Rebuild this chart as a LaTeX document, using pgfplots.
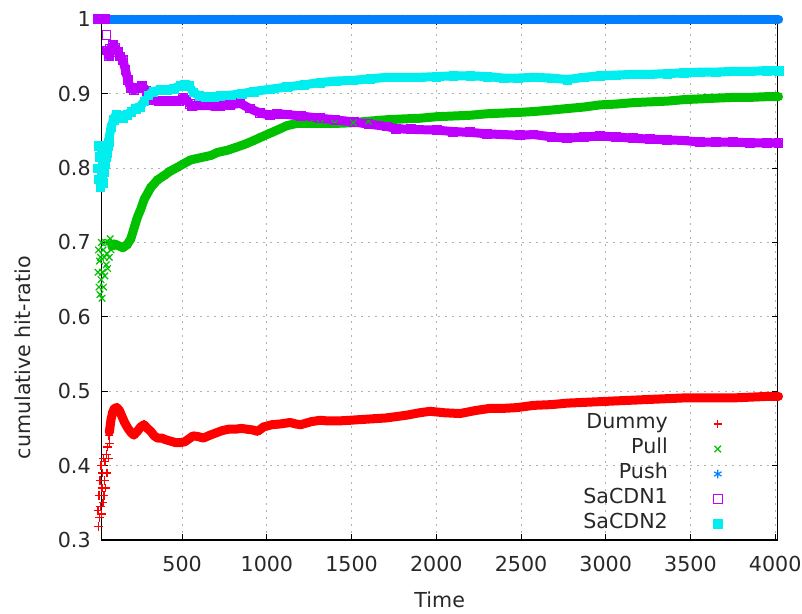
\documentclass[border=0pt]{standalone}
\usepackage{pgfplots}
\usepackage{pgfplotstable}
\pgfplotsset{compat=1.18}
\usepackage{fontspec}
\setmainfont{DejaVu Sans}

\definecolor{cDummy}{RGB}{255,0,0}
\definecolor{cPull}{RGB}{0,192,0}
\definecolor{cPush}{RGB}{0,128,255}
\definecolor{cSaA}{RGB}{192,0,255}
\definecolor{cSaB}{RGB}{0,238,238}
\definecolor{txt}{RGB}{40,40,40}

% ---------------- Dummy ----------------
\pgfplotstableread{
t v
3 0.34
6 0.318
9 0.36
12 0.33
15 0.38
18 0.345
21 0.40
24 0.335
27 0.37
30 0.39
33 0.35
36 0.41
39 0.36
42 0.38
45 0.405
48 0.37
52 0.415
56 0.39
60 0.425
64 0.41
68 0.44
72 0.43
76 0.455
}\dummyearly
\pgfplotstableread{
t v
70 0.445
80 0.462
90 0.472
100 0.477
115 0.478
130 0.474
145 0.466
160 0.458
180 0.450
200 0.444
215 0.441
235 0.446
255 0.452
275 0.455
295 0.450
315 0.446
335 0.440
355 0.437
380 0.437
400 0.435
430 0.433
460 0.431
490 0.431
515 0.432
540 0.436
565 0.440
595 0.439
625 0.437
665 0.441
700 0.444
735 0.447
775 0.449
815 0.449
850 0.450
880 0.449
915 0.448
945 0.446
980 0.452
1030 0.455
1080 0.456
1137 0.458
1170 0.456
1200 0.455
1260 0.459
1314 0.461
1360 0.460
1420 0.460
1492 0.461
1560 0.462
1630 0.463
1700 0.464
1768 0.466
1830 0.468
1900 0.471
1963 0.473
2050 0.471
2140 0.470
2230 0.474
2318 0.477
2400 0.477
2477 0.478
2574 0.481
2680 0.482
2773 0.484
2870 0.485
2968 0.486
3060 0.487
3163 0.488
3260 0.489
3363 0.490
3460 0.491
3558 0.491
3650 0.491
3753 0.491
3850 0.492
3950 0.493
4020 0.493
}\dummyband

% ---------------- Pull ----------------
\pgfplotstableread{
t v
3 0.66
6 0.69
9 0.64
12 0.675
15 0.63
18 0.68
21 0.65
24 0.70
27 0.625
30 0.66
33 0.69
36 0.64
40 0.68
44 0.655
48 0.70
52 0.67
56 0.685
60 0.665
65 0.70
70 0.68
75 0.705
80 0.69
}\pullearly
\pgfplotstableread{
t v
85 0.695
100 0.698
130 0.695
150 0.693
175 0.697
197 0.705
217 0.720
236 0.734
256 0.745
276 0.758
315 0.774
354 0.784
394 0.790
430 0.796
472 0.801
510 0.806
551 0.811
590 0.813
630 0.815
670 0.817
708 0.821
767 0.824
820 0.828
870 0.832
922 0.837
970 0.842
1020 0.847
1070 0.852
1118 0.857
1176 0.860
1250 0.860
1314 0.860
1400 0.860
1510 0.861
1600 0.863
1709 0.865
1800 0.866
1905 0.867
2000 0.869
2100 0.870
2200 0.871
2300 0.873
2400 0.874
2500 0.875
2574 0.876
2680 0.878
2773 0.880
2870 0.882
2968 0.885
3060 0.886
3163 0.888
3260 0.889
3363 0.890
3460 0.892
3558 0.893
3650 0.894
3753 0.895
3850 0.895
3950 0.896
4020 0.896
}\pullband

% ---------------- Push ----------------
\pgfplotstableread{
t v
2 1
200 1
400 1
600 1
800 1
1000 1
1200 1
1400 1
1600 1
1800 1
2000 1
2200 1
2400 1
2600 1
2800 1
3000 1
3200 1
3400 1
3600 1
3800 1
4020 1
}\pushband

% ---------------- SaCDN1 ----------------
\pgfplotstableread{
t v
2 1
7 1
12 1
17 1
22 1
27 1
32 1
37 1
42 1
47 1
53 0.979
}\saAearly
\pgfplotstableread{
t v
58 0.958
66 0.950
75 0.960
90 0.965
105 0.962
120 0.956
135 0.950
150 0.945
165 0.932
180 0.918
195 0.908
215 0.905
240 0.908
265 0.910
290 0.904
310 0.896
330 0.891
360 0.890
400 0.890
440 0.890
480 0.890
505 0.895
525 0.892
545 0.886
560 0.883
600 0.884
650 0.884
700 0.883
725 0.883
780 0.885
843 0.887
900 0.880
960 0.874
1020 0.871
1060 0.873
1118 0.872
1200 0.870
1314 0.867
1400 0.865
1512 0.862
1600 0.859
1709 0.856
1760 0.853
1850 0.852
2005 0.851
2100 0.849
2200 0.848
2300 0.846
2395 0.845
2495 0.844
2574 0.845
2680 0.842
2773 0.840
2870 0.842
2968 0.843
3060 0.842
3163 0.840
3260 0.839
3363 0.838
3460 0.837
3558 0.835
3650 0.835
3753 0.835
3850 0.834
3950 0.834
4020 0.834
}\saAband

% ---------------- SaCDN2 ----------------
\pgfplotstableread{
t v
3 0.80
6 0.83
9 0.785
12 0.815
15 0.775
18 0.80
21 0.825
24 0.79
27 0.81
30 0.78
34 0.82
38 0.795
42 0.83
46 0.805
50 0.815
55 0.82
60 0.83
}\saBearly
\pgfplotstableread{
t v
65 0.835
80 0.855
95 0.865
110 0.872
130 0.870
150 0.868
175 0.872
200 0.876
225 0.880
250 0.882
275 0.890
300 0.898
330 0.903
370 0.905
410 0.905
450 0.907
490 0.911
515 0.913
540 0.911
565 0.902
600 0.897
640 0.896
690 0.896
725 0.897
785 0.898
850 0.900
922 0.903
1020 0.906
1118 0.909
1220 0.912
1314 0.915
1410 0.917
1510 0.918
1610 0.920
1709 0.922
1800 0.922
1905 0.922
2000 0.923
2100 0.924
2200 0.924
2300 0.923
2397 0.921
2480 0.921
2574 0.922
2680 0.921
2773 0.919
2870 0.922
2968 0.924
3060 0.925
3163 0.926
3260 0.926
3363 0.927
3460 0.928
3558 0.929
3650 0.929
3753 0.930
3850 0.930
3950 0.931
4020 0.931
}\saBband

\pgfplotsset{
  band/.style={forget plot, no marks, line width=9bp, line join=round, line cap=round},
  pts/.style={only marks, mark size=4.3bp, mark options={line width=1.2bp}},
}

\begin{document}
\fontsize{20.7}{24}\selectfont
\begin{tikzpicture}
\begin{axis}[
  at={(0,0)}, anchor=south west,
  scale only axis,
  width=676bp, height=520.7bp,
  xmin=25, xmax=4015,
  ymin=0.3, ymax=1,
  xtick={500,1000,...,4000},
  ytick={0.3,0.4,...,1.0},
  /pgf/number format/1000 sep={},
  yticklabel style={/pgf/number format/fixed, /pgf/number format/precision=1, xshift=-4bp},
  /pgf/number format/assume math mode=true,
  tick align=inside,
  major tick length=6bp,
  tick style={black, line width=1bp},
  axis line style={black, line width=1.5bp},
  grid=major,
  grid style={gray!60, line width=1bp, dash pattern=on 2bp off 5bp},
  ticklabel style={text=txt},
  xticklabel style={yshift=-9bp},
  xlabel={Time},
  ylabel={cumulative hit-ratio},
  xlabel style={at={(axis description cs:0.5,0)}, anchor=center, yshift=-60bp, text=txt},
  ylabel style={at={(axis description cs:-0.1165,0.35)}, anchor=center, text=txt},
  clip=false,
  legend plot pos=right,
  legend cell align=right,
  legend image code/.code={\path[draw=none, fill=none] (0bp,0bp) -- (60bp,0bp); \draw[#1] plot coordinates {(50bp,0bp)};},
  legend style={draw=none, fill=none, inner sep=0pt, at={(0.9265,0.0131)}, anchor=south east,
    row sep=7bp, column sep=0bp, text=txt,
    nodes={inner sep=0pt, text height=14bp, text depth=4bp}},
]
% Dummy
\addplot[band, color=cDummy] table {\dummyband};
\addplot[pts, color=cDummy, mark=+] table {\dummyearly};
\addplot[pts, color=cDummy, mark=+, forget plot] table {\dummyband};
% Pull
\addplot[band, color=cPull] table {\pullband};
\addplot[pts, color=cPull, mark=x, mark size=4.6bp] table {\pullearly};
\addplot[pts, color=cPull, mark=x, mark size=4.6bp, forget plot] table {\pullband};
% Push
\addplot[band, color=cPush] table {\pushband};
\addplot[pts, color=cPush, mark=asterisk] table {\pushband};
% SaCDN1
\addplot[band, color=cSaA] table {\saAband};
\addplot[pts, color=cSaA, mark=square] table {\saAearly};
\addplot[pts, color=cSaA, mark=square, forget plot] table {\saAband};
% SaCDN2
\addplot[band, color=cSaB] table {\saBband};
\addplot[pts, color=cSaB, mark=square*, mark options={fill=cSaB}] table {\saBearly};
\addplot[pts, color=cSaB, mark=square*, mark options={fill=cSaB}, forget plot] table {\saBband};
\legend{Dummy,Pull,Push,SaCDN1,SaCDN2}
\end{axis}
\pgfresetboundingbox
\useasboundingbox (-101.7bp,-74bp) rectangle (700.3bp,540bp);
\end{tikzpicture}
\end{document}
